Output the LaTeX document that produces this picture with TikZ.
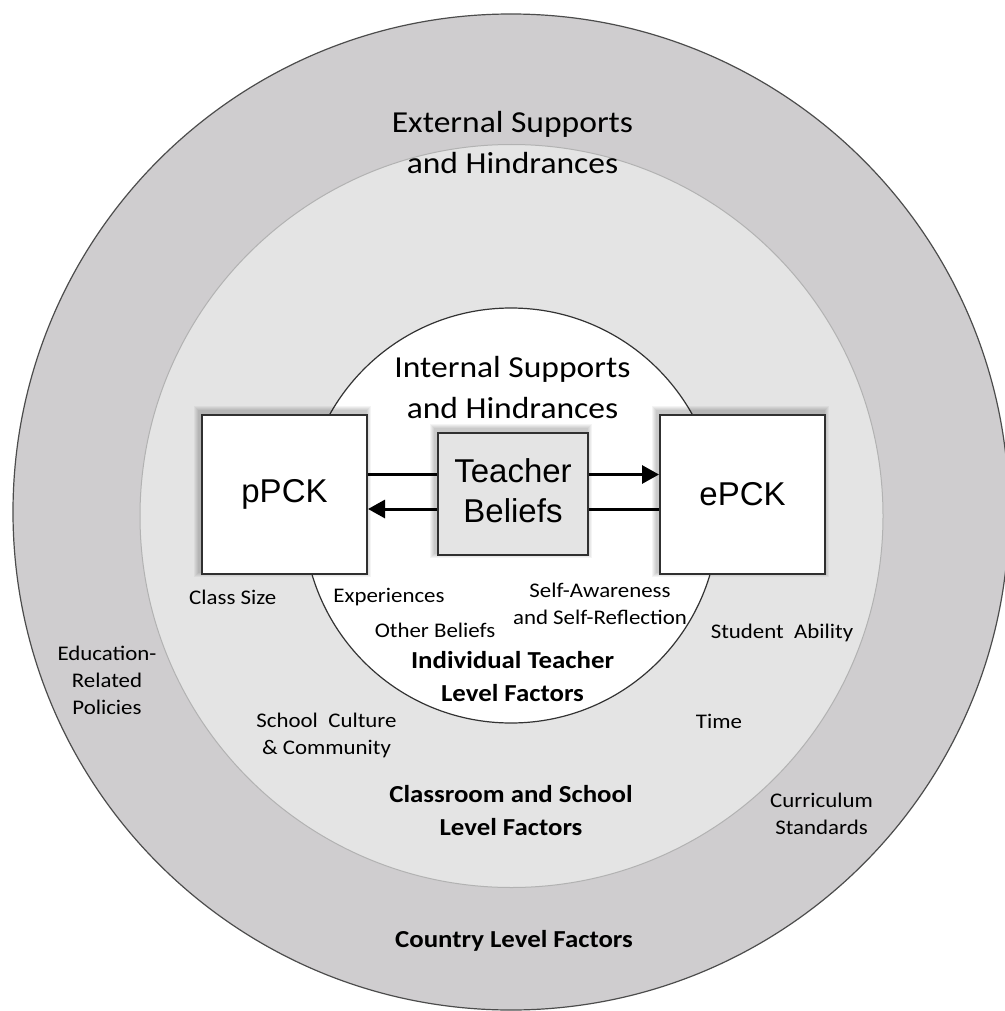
\documentclass[tikz,border=0pt]{standalone}
\usepackage{fontspec}
\setmainfont{Carlito}[FakeStretch=1.1]
\newfontfamily\arialf{Liberation Sans}
\usetikzlibrary{arrows.meta,calc}
\pgfdeclarelayer{bg}\pgfdeclarelayer{mid}\pgfsetlayers{bg,mid,main}
\definecolor{outerg}{HTML}{CFCDCF}
\definecolor{midg}{HTML}{E4E4E4}
\definecolor{beliefg}{HTML}{E4E4E4}
\definecolor{boxline}{HTML}{303030}
\newcommand\ml[1]{\begin{tabular}[t]{@{}c@{}}#1\end{tabular}}
\newcommand\softshadow[1]{\foreach \d in {1,...,5}{\fill[black,opacity=0.045] ($(#1.north west)+(-2-\d,-3-\d)$) rectangle ($(#1.south east)+(-2+\d,-3+\d)$);}}
\begin{document}
\begin{tikzpicture}[x=1pt,y=-1pt,
  lbl/.style={inner sep=0pt, anchor=base},
  bigtxt/.style={lbl, font=\fontsize{30.5}{41}\selectfont},
  smalltxt/.style={lbl, font=\fontsize{20.8}{27}\selectfont},
  boldtxt/.style={lbl, font=\bfseries\fontsize{24.4}{33}\selectfont},
  pckbox/.style={draw=boxline, line width=2pt, fill=white, minimum width=165pt, minimum height=159pt, font=\arialf\fontsize{33}{40}\selectfont, inner sep=0pt},
  beliefbox/.style={pckbox, fill=beliefg, minimum width=150pt, minimum height=122pt},
  conn/.style={line width=3pt, draw=black, -{Triangle[length=17pt,width=18pt]}}
]
\useasboundingbox (0,0) rectangle (1004,1011);
\begin{pgfonlayer}{bg}
  \fill[white] (0,0) rectangle (1004,1011);
  \draw[draw=black!70, line width=1.2pt, fill=outerg] (511,512) circle[radius=498pt];
  \draw[draw=black!30, line width=1pt, fill=midg] (511.5,516) circle[radius=371.5pt];
  \draw[draw=black!80, line width=1.2pt, fill=white] (511,515.5) circle[radius=207.5pt];
\end{pgfonlayer}

% boxes
\node[pckbox] (ppck) at (284.5,494.5) {pPCK};
\node[pckbox] (epck) at (742.5,494.5) {ePCK};
\node[beliefbox] (tb) at (513,494) {\ml{Teacher\\Beliefs}};

\begin{pgfonlayer}{mid}
  \softshadow{ppck}
  \softshadow{epck}
  \softshadow{tb}
  \draw[conn] ([yshift=20pt]ppck.east) -- ([yshift=20pt]epck.west);
  \draw[conn] ([yshift=-14.5pt]epck.west) -- ([yshift=-14.5pt]ppck.east);
\end{pgfonlayer}

% headings
\node[bigtxt] (ext) at (512.5,133) {\ml{External Supports\\and Hindrances}};
\node[bigtxt] (int) at (512.5,377) {\ml{Internal Supports\\and Hindrances}};

% individual level
\node[smalltxt] (exp) at (389,602) {Experiences};
\node[smalltxt] (oth) at (435,637) {Other Beliefs};
\node[smalltxt] (self) at (600,597) {\ml{Self-Awareness\\and Self-Reflection}};
\node[boldtxt] (ind) at (512.5,668) {\ml{Individual Teacher\\Level Factors}};

% classroom and school level
\node[smalltxt, anchor=base west] (cls) at (189,604) {Class Size};
\node[smalltxt] (stu) at (782,638) {Student\hspace{0.25em} Ability};
\node[smalltxt] (sch) at (326.5,727) {\ml{School\hspace{0.25em} Culture\\\& Community}};
\node[smalltxt] (time) at (719,728) {Time};
\node[boldtxt] (csl) at (511,802) {\ml{Classroom and School\\Level Factors}};

% country level
\node[smalltxt] (edu) at (107,660) {\ml{Education-\\Related\\Policies}};
\node[smalltxt] (cur) at (821.5,807) {\ml{Curriculum\\Standards}};
\node[boldtxt] (ctry) at (514,947) {Country Level Factors};
\end{tikzpicture}
\end{document}
